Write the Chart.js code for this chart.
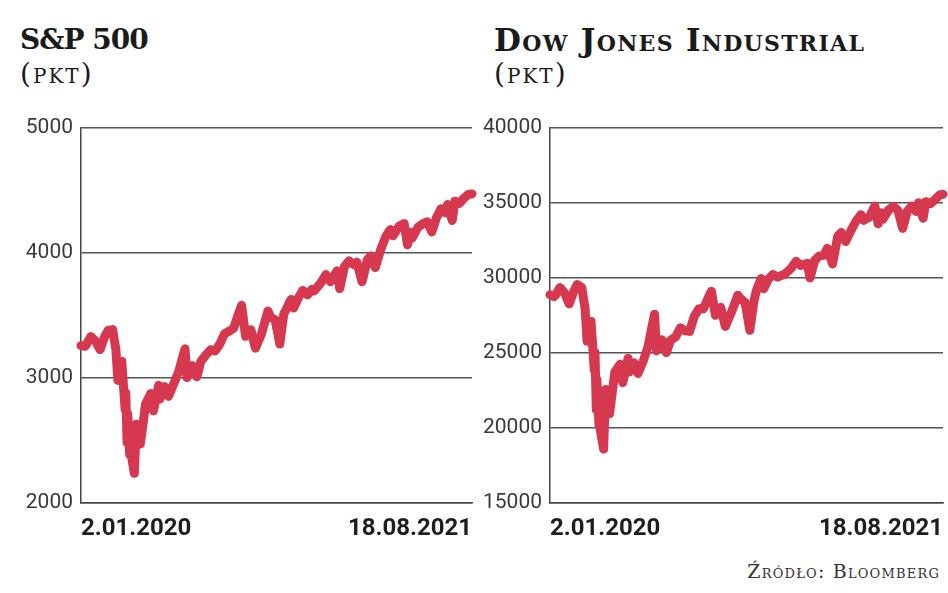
<!DOCTYPE html>
<html>
<head>
<meta charset="utf-8">
<script src="https://cdn.jsdelivr.net/npm/chart.js@4"></script>
<style>
  body { margin: 0; width: 948px; height: 593px; background: #fff; position: relative; overflow: hidden; }
  .title { position: absolute; font-family: "DejaVu Serif", serif; font-weight: bold; line-height: 1; color: #1a1a1a; font-variant: small-caps; white-space: nowrap; }
  .unit { position: absolute; font-family: "DejaVu Serif", serif; font-size: 28px; line-height: 1; color: #1a1a1a; font-variant: small-caps; letter-spacing: 2px; white-space: nowrap; }
  .source { position: absolute; right: 8px; top: 562px; font-family: "DejaVu Serif", serif; font-size: 19px; line-height: 1; color: #333; font-variant: small-caps; letter-spacing: 1.2px; white-space: nowrap; }
  .box { position: absolute; top: 107px; height: 438px; }
</style>
</head>
<body>
<div class="title" style="left:20px; top:26px; font-size:28px; letter-spacing:-1px;">S&amp;P 500</div>
<div class="unit" style="left:20px; top:60px;">(pkt)</div>
<div class="title" style="left:494px; top:25px; font-size:31px; letter-spacing:1.3px;">Dow Jones Industrial</div>
<div class="unit" style="left:494px; top:60px;">(pkt)</div>
<div class="source">Źródło: Bloomberg</div>

<div class="box" style="left:0; width:480px;"><canvas id="spx"></canvas></div>
<div class="box" style="left:474px; width:474px;"><canvas id="dji"></canvas></div>

<script>
const dates = [
  '2020-01-02','2020-01-08','2020-01-10','2020-01-17','2020-01-24','2020-01-31','2020-02-07','2020-02-12',
  '2020-02-19','2020-02-24','2020-02-27','2020-03-03','2020-03-04','2020-03-09','2020-03-10','2020-03-12',
  '2020-03-13','2020-03-16','2020-03-18','2020-03-23','2020-03-26','2020-04-01','2020-04-06','2020-04-09',
  '2020-04-17','2020-04-21','2020-04-29','2020-05-01','2020-05-08','2020-05-14','2020-05-22','2020-05-29',
  '2020-06-08','2020-06-11','2020-06-19','2020-06-26','2020-07-02','2020-07-10','2020-07-17','2020-07-24',
  '2020-07-31','2020-08-07','2020-08-14','2020-08-21','2020-08-28','2020-09-02','2020-09-08','2020-09-16',
  '2020-09-23','2020-10-02','2020-10-12','2020-10-16','2020-10-23','2020-10-30','2020-11-05','2020-11-09',
  '2020-11-16','2020-11-20','2020-11-27','2020-12-04','2020-12-11','2020-12-18','2020-12-21','2020-12-31',
  '2021-01-08','2021-01-15','2021-01-25','2021-01-29','2021-02-05','2021-02-12','2021-02-19','2021-02-24',
  '2021-03-04','2021-03-12','2021-03-17','2021-03-24','2021-04-01','2021-04-09','2021-04-16','2021-04-20',
  '2021-04-29','2021-05-07','2021-05-12','2021-05-17','2021-05-19','2021-05-28','2021-06-04','2021-06-11',
  '2021-06-18','2021-06-25','2021-07-02','2021-07-08','2021-07-12','2021-07-19','2021-07-23','2021-07-30',
  '2021-08-06','2021-08-13','2021-08-18'
];

const spxValues = [
  3258, 3253, 3265, 3330, 3295, 3226, 3328, 3379,
  3386, 3226, 2979, 3003, 3130, 2747, 2882, 2481,
  2711, 2386, 2398, 2237, 2630, 2471, 2664, 2790,
  2875, 2737, 2940, 2831, 2930, 2852, 2955, 3044,
  3232, 3002, 3098, 3009, 3130, 3185, 3225, 3216,
  3271, 3351, 3373, 3397, 3508, 3580, 3332, 3385,
  3237, 3348, 3534, 3484, 3465, 3270, 3510, 3550,
  3627, 3558, 3638, 3699, 3663, 3709, 3694, 3756,
  3825, 3768, 3855, 3714, 3887, 3934, 3907, 3925,
  3768, 3943, 3975, 3881, 4020, 4129, 4185, 4135,
  4211, 4233, 4063, 4163, 4116, 4204, 4230, 4247,
  4166, 4281, 4352, 4320, 4385, 4258, 4412, 4395,
  4437, 4468, 4470
];

const djiValues = [
  28868, 28745, 28823, 29348, 28989, 28256, 29102, 29551,
  29348, 27961, 25766, 25917, 27091, 23851, 25018, 21200,
  23186, 20189, 19899, 18592, 22552, 20944, 22680, 23719,
  24242, 23019, 24634, 23724, 24331, 23625, 24465, 25383,
  27572, 25128, 25871, 25016, 25827, 26075, 26672, 26470,
  26428, 27433, 27931, 27930, 28654, 29100, 27500, 28032,
  26763, 27683, 28838, 28606, 28336, 26502, 28390, 29158,
  29950, 29263, 29910, 30218, 30046, 30179, 30216, 30606,
  31098, 30814, 30960, 29983, 31148, 31458, 31494, 31962,
  30924, 32779, 33015, 32420, 33153, 33801, 34200, 33821,
  34060, 34778, 33587, 34327, 33896, 34529, 34756, 34480,
  33290, 34434, 34786, 34421, 34996, 33962, 35062, 34935,
  35209, 35515, 35560
];

const xTickLabels = ['2.01.2020', '18.08.2021'];
const spxTicks = [2000, 3000, 4000, 5000];
const djiTicks = [15000, 20000, 25000, 30000, 35000, 40000];

const lineColor = '#d5384f';
const dayMs = 86400000;
const start = Date.parse(dates[0]);
const days = dates.map(d => Math.round((Date.parse(d) - start) / dayMs));

function makeChart(id, values, yTicks, axisWidth, padRight) {
  const points = values.map((v, i) => ({ x: days[i], y: v }));
  return new Chart(document.getElementById(id), {
    type: 'line',
    data: {
      datasets: [{
        data: points,
        borderColor: lineColor,
        borderWidth: 9,
        borderJoinStyle: 'round',
        borderCapStyle: 'round',
        pointRadius: 0,
        tension: 0,
        clip: false
      }]
    },
    options: {
      responsive: true,
      maintainAspectRatio: false,
      animation: false,
      layout: { padding: { top: 16, right: padRight, bottom: 0, left: 0 } },
      plugins: { legend: { display: false }, tooltip: { enabled: false } },
      scales: {
        x: {
          type: 'linear',
          min: 0,
          max: days[days.length - 1],
          afterBuildTicks: axis => { axis.ticks = [{ value: axis.min }, { value: axis.max }]; },
          afterFit: axis => { axis.height = 42; },
          grid: { display: false },
          border: { display: true, color: '#444', width: 1.5 },
          ticks: {
            autoSkip: false,
            maxRotation: 0,
            align: 'inner',
            padding: 4,
            color: '#1e1e1e',
            font: { family: 'Roboto, "DejaVu Sans", sans-serif', size: 24, weight: 'bold' },
            callback: (v, i) => xTickLabels[i]
          }
        },
        y: {
          min: yTicks[0],
          max: yTicks[yTicks.length - 1],
          afterBuildTicks: axis => { axis.ticks = yTicks.map(v => ({ value: v })); },
          afterFit: axis => { axis.width = axisWidth; },
          grid: { color: '#555', lineWidth: 1.5, drawTicks: false },
          border: { display: true, color: '#444', width: 1.5 },
          ticks: {
            padding: 8,
            color: '#3a3a3a',
            font: { family: 'Roboto, "DejaVu Sans", sans-serif', size: 21 },
            callback: v => String(v)
          }
        }
      }
    }
  });
}

makeChart('spx', spxValues, spxTicks, 81, 8);
makeChart('dji', djiValues, djiTicks, 76, 5);
</script>
</body>
</html>
